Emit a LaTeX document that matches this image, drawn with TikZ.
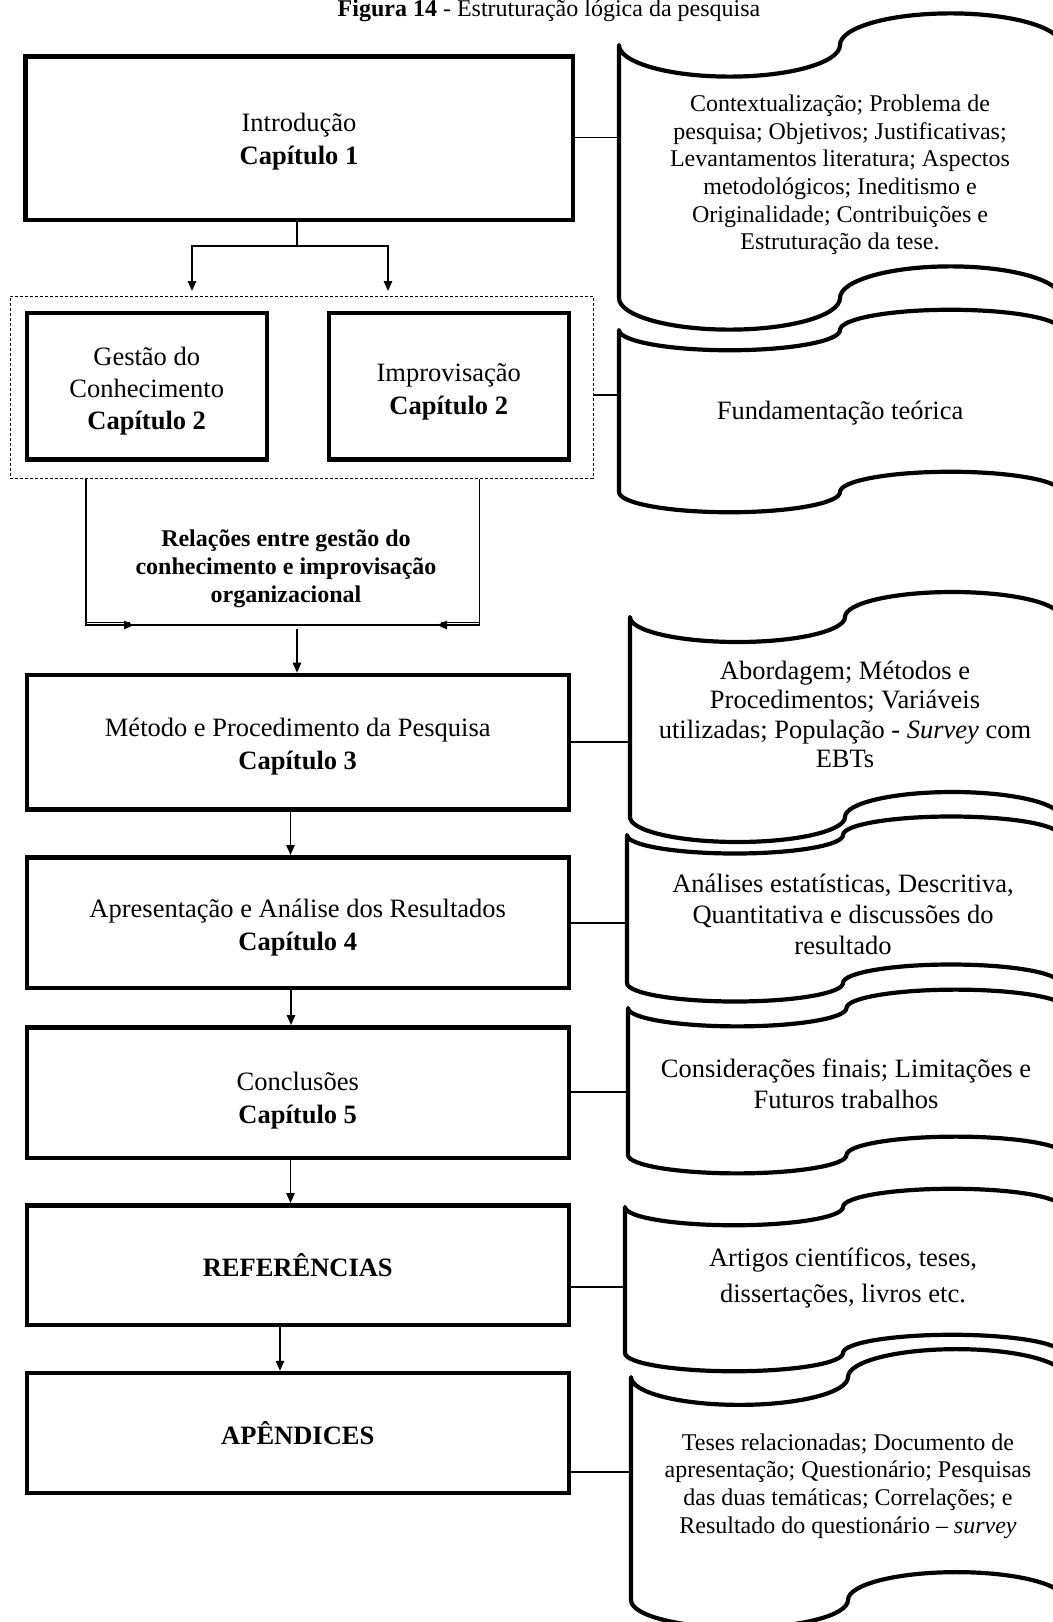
\documentclass[tikz,border=0pt]{standalone}
\usepackage{fontspec}
\setmainfont{Liberation Serif}
\usetikzlibrary{arrows.meta}

% punched-tape outline: #1 left x, #2 top-left corner y, #3 bottom-left corner y, #4 width
\newcommand\tapeshape[4]{%
  \pgfmathsetmacro\tpa{(#3-#2)/8}%
  \pgfmathsetmacro\tpr{#4/4}%
  \draw[tapeline] (#1,#2)
    arc[start angle=180,end angle=0,x radius=\tpr,y radius=\tpa]
    arc[start angle=180,end angle=360,x radius=\tpr,y radius=\tpa]
    -- ++(0,#3-#2)
    arc[start angle=0,end angle=-180,x radius=\tpr,y radius=\tpa]
    arc[start angle=0,end angle=180,x radius=\tpr,y radius=\tpa]
    -- cycle;}

\tikzset{
  chapbox/.style={draw, line width=2.25pt, inner sep=0pt},
  chaptext/.style={align=center, inner sep=0pt, font=\fontsize{13.25}{16.5}\selectfont},
  boxdim/.style 2 args={minimum width=#1*0.5pt, minimum height=#2*0.5pt},
  groupbox/.style={draw, line width=0.5pt, dash pattern=on 1.5pt off 1pt, inner sep=0pt},
  conn/.style={line width=0.8pt},
  arr/.style={conn, -{Triangle[length=5pt,width=4.2pt]}},
  tapeline/.style={line width=2.1pt, fill=white, line join=round},
  tapetext/.style={align=center, inner sep=0pt, font=\fontsize{13.25}{15.5}\selectfont},
  smalltext/.style={align=center, inner sep=0pt, font=\fontsize{12}{13.8}\selectfont},
}

\begin{document}
\begin{tikzpicture}[x=0.5pt,y=-0.5pt]
\useasboundingbox (0,0) rectangle (1053,1622);

% caption
\node[anchor=base, inner sep=0pt, font=\fontsize{12}{14}\selectfont] (title) at (549,16.5)
  {\textbf{Figura 14} - Estruturação lógica da pesquisa};

% side tapes
\tapeshape{619}{45}{298}{442}
\tapeshape{619}{330}{492}{442}
\tapeshape{630}{617}{817}{430}
\tapeshape{627}{835}{983}{432}
\tapeshape{628}{1008}{1155}{437}
\tapeshape{625}{1207}{1353}{436}
\tapeshape{631}{1377}{1600}{434}

\node[smalltext] (tape1) at (840,175) {Contextualização; Problema de\\pesquisa; Objetivos; Justificativas;\\Levantamentos literatura; Aspectos\\metodológicos; Ineditismo e\\Originalidade; Contribuições e\\Estruturação da tese.};
\node[tapetext] (tape2) at (840,413) {Fundamentação teórica};
\node[tapetext, font=\fontsize{13.25}{14.8}\selectfont] (tape3) at (845,714.5) {Abordagem; Métodos e\\Procedimentos; Variáveis\\utilizadas; População - \textit{Survey} com\\EBTs};
\node[tapetext] (tape4) at (843,914) {Análises estatísticas, Descritiva,\\Quantitativa e discussões do\\resultado};
\node[tapetext] (tape5) at (846,1084) {Considerações finais; Limitações e\\Futuros trabalhos};
\node[tapetext, font=\fontsize{13.25}{18}\selectfont] (tape6) at (843,1278) {Artigos científicos, teses,\\dissertações, livros etc.};
\node[smalltext] (tape7) at (848,1486) {Teses relacionadas; Documento de\\apresentação; Questionário; Pesquisas\\das duas temáticas; Correlações; e\\Resultado do questionário -- \textit{survey}};

% chapter boxes
\node[chapbox, boxdim={547.5}{163.5}] (intro) at (299,138) {};
\node[groupbox, boxdim={583}{182}] (group) at (301.5,387) {};
\node[chapbox, boxdim={240}{146.5}] (gestao) at (146.75,386.2) {};
\node[chapbox, boxdim={240}{146.5}] (improv) at (448.75,386.2) {};
\node[chapbox, boxdim={542}{134.5}] (metodo) at (297.75,742.2) {};
\node[chapbox, boxdim={542}{130.5}] (apres) at (297.75,922.5) {};
\node[chapbox, boxdim={542}{130.5}] (concl) at (297.75,1092.5) {};
\node[chapbox, boxdim={542}{119.5}] (refs) at (297.75,1265) {};
\node[chapbox, boxdim={542}{119.8}] (apend) at (297.75,1432.9) {};

% box labels
\node[chaptext] (introlbl) at (299,141.5) {Introdução\\\textbf{Capítulo 1}};
\node[chaptext, font=\fontsize{13.25}{16}\selectfont] (gestaolbl) at (146.75,390.7) {Gestão do\\Conhecimento\\\textbf{Capítulo 2}};
\node[chaptext] (improvlbl) at (448.75,391.4) {Improvisação\\\textbf{Capítulo 2}};
\node[align=center, inner sep=0pt, font=\bfseries\fontsize{12}{14}\selectfont] (rel) at (286,569)
  {Relações entre gestão do\\conhecimento e improvisação\\organizacional};
\node[chaptext] (metodolbl) at (297.75,746.3) {Método e Procedimento da Pesquisa\\\textbf{Capítulo 3}};
\node[chaptext] (apreslbl) at (297.75,928) {Apresentação e Análise dos Resultados\\\textbf{Capítulo 4}};
\node[chaptext] (concllbl) at (297.75,1101) {Conclusões\\\textbf{Capítulo 5}};
\node[chaptext] (refslbl) at (297.75,1265) {\textbf{REFERÊNCIAS}};
\node[chaptext] (apendlbl) at (297.75,1432.9) {\textbf{APÊNDICES}};

% branching below the introduction
\coordinate (fork) at (297,246);
\coordinate (gtip) at (192,291);
\coordinate (itip) at (388,291);
\draw[conn] (fork |- intro.south) -- (fork);
\draw[arr] (fork) -| (gtip);
\draw[arr] (fork) -| (itip);

% joining lines below the group
\coordinate (lcorner) at (86,625);
\coordinate (rcorner) at (479.5,625);
\coordinate (ltip) at (134,625);
\coordinate (rtip) at (437,625);
\draw[conn] (group.south -| lcorner) -- (lcorner) -- (rcorner) -- (group.south -| rcorner);
\draw[arr] (lcorner) -- (ltip);
\draw[arr] (rcorner) -- (rtip);
\draw[line width=0.5pt] ([yshift=1.5pt]lcorner) -- ([yshift=1.5pt,xshift=-2pt]ltip);
\draw[line width=0.5pt] ([yshift=1.5pt]rcorner) -- ([yshift=1.5pt,xshift=2pt]rtip);

% main sequence
\coordinate (mstart) at (297,629);
\draw[arr] (mstart) -- (metodo.north -| mstart);
\coordinate (a1) at (290.5,0);
\draw[arr] (metodo.south -| a1) -- (apres.north -| a1);
\coordinate (a2) at (291,0);
\draw[arr] (apres.south -| a2) -- (concl.north -| a2);
\coordinate (a3) at (290.5,0);
\draw[arr] (concl.south -| a3) -- (refs.north -| a3);
\coordinate (a4) at (280,0);
\draw[arr] (refs.south -| a4) -- (apend.north -| a4);

% links to the tapes
\coordinate (tape1w) at (619,137.6);
\coordinate (tape2w) at (619,395);
\coordinate (tape3w) at (630,741.7);
\coordinate (tape4w) at (627,923);
\coordinate (tape5w) at (628,1091.7);
\coordinate (tape6w) at (625,1286.7);
\coordinate (tape7w) at (631,1471.7);
\draw[conn] (intro.east |- tape1w) -- (tape1w);
\draw[conn] (group.east |- tape2w) -- (tape2w);
\draw[conn] (metodo.east |- tape3w) -- (tape3w);
\draw[conn] (apres.east |- tape4w) -- (tape4w);
\draw[conn] (concl.east |- tape5w) -- (tape5w);
\draw[conn] (refs.east |- tape6w) -- (tape6w);
\draw[conn] (apend.east |- tape7w) -- (tape7w);
\end{tikzpicture}
\end{document}
